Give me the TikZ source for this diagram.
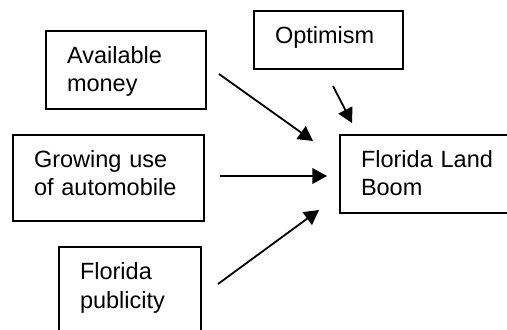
\documentclass[tikz,border=0pt]{standalone}
\usepackage{fontspec}
\setmainfont{Liberation Sans}
\usetikzlibrary{arrows.meta}

\begin{document}
\begin{tikzpicture}[x=0.5pt,y=-0.5pt,
  font=\fontsize{11.75}{14}\selectfont,
  cause/.style={draw,line width=1pt,anchor=north west,align=left,inner xsep=10.5pt,inner ysep=0pt,text height=16.5pt},
  arr/.style={-{Triangle[length=7.3pt,width=7.8pt]},line width=0.9pt}]
\useasboundingbox (0,0) rectangle (507,330);
% causes
\node[cause,text width=59pt,text depth=22.5pt] (money) at (45,30) {Available\\ money};
\node[cause,text width=53.5pt,text depth=12.5pt] (optim) at (253,10) {Optimism};
\node[cause,text width=74.5pt,text depth=26.5pt] (auto) at (12,134) {Growing use\\ of automobile};
\node[cause,text width=50pt,text depth=31pt] (publ) at (58,246) {Florida\\ publicity};
% effect
\node[cause,text width=79pt,text depth=22.5pt] (boom) at (339,134) {Florida Land\\ Boom};
% arrow ends
\coordinate (m1) at (219,74);  \coordinate (m2) at (313,141);
\coordinate (o1) at (333,86);  \coordinate (o2) at (352,123);
\coordinate (a1) at (220,176); \coordinate (a2) at (327,176);
\coordinate (p1) at (218,284); \coordinate (p2) at (319,210);
\draw[arr] (m1) -- (m2);
\draw[arr] (o1) -- (o2);
\draw[arr] (a1) -- (a2);
\draw[arr] (p1) -- (p2);
\end{tikzpicture}
\end{document}
